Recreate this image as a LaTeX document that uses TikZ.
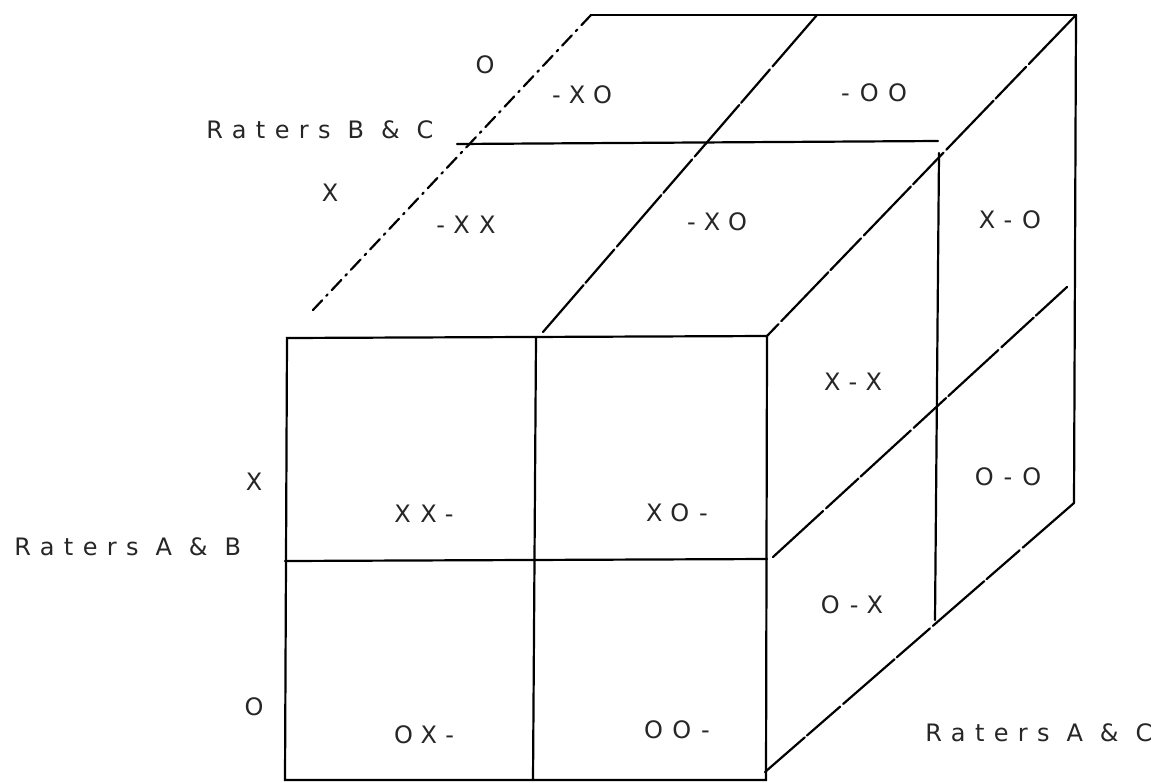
\documentclass[tikz,border=0pt]{standalone}
\usepackage{fontspec}
\newfontfamily\printfont[LetterSpace=39]{DejaVu Sans}

\begin{document}
\begin{tikzpicture}[
      x=0.5pt, y=-0.5pt,
      edge/.style={line width=1.1pt, line cap=round},
      broken/.style={edge, dash pattern=on 34pt off 2pt on 22pt off 1.5pt},
      dashdot/.style={edge, dash pattern=on 7pt off 3pt on 1pt off 3pt},
      cell/.style={font=\printfont\fontsize{12}{14}\selectfont, inner sep=0pt, text=black!85},
      axis/.style={cell, anchor=west}
    ]
    \useasboundingbox (0,0) rectangle (1160,782);

    % corners of the cube
    \coordinate (ftl) at (287,338);
    \coordinate (ftr) at (767,336);
    \coordinate (fbl) at (285,780);
    \coordinate (fbr) at (766,780);
    \coordinate (fml) at (285,561);
    \coordinate (fmr) at (767,559);
    \coordinate (ftm) at (536,337);
    \coordinate (fbm) at (533,780);
    \coordinate (btl) at (591,15);
    \coordinate (btr) at (1076,15);
    \coordinate (btm) at (817,15);
    \coordinate (tbm) at (543,332);
    \coordinate (tle) at (313,310);
    \coordinate (tml) at (457,144);
    \coordinate (tmr) at (938,141);
    \coordinate (bbr) at (1074,503);
    \coordinate (rbe) at (765,772);
    \coordinate (rtv) at (939,153);
    \coordinate (rbv) at (935,620);
    \coordinate (rml) at (773,557);
    \coordinate (rmr) at (1067,287);

    % front face
    \draw[edge] (ftl) -- (ftr) -- (fbr) -- (fbl) -- cycle;
    \draw[edge] (fml) -- (fmr);
    \draw[edge] (ftm) -- (fbm);

    % top face
    \draw[edge] (btl) -- (btr);
    \draw[dashdot] (btl) -- (tle);
    \draw[broken] (btr) -- (ftr);
    \draw[edge] (tml) -- (tmr);
    \draw[broken] (btm) -- (tbm);

    % right face
    \draw[edge] (btr) -- (bbr);
    \draw[broken] (bbr) -- (rbe);
    \draw[edge] (rtv) -- (rbv);
    \draw[broken] (rml) -- (rmr);

    % labels
    \node[axis] (raterBC) at (206,130) {Raters B \& C};
    \node[cell] (topO) at (485,65) {O};
    \node[cell] (topX) at (330,193) {X};
    \node[cell] (cXOa) at (582,95) {-XO};
    \node[cell] (cOOa) at (874,93) {-OO};
    \node[cell] (cXXa) at (466,225) {-XX};
    \node[cell] (cXOb) at (717,222) {-XO};

    \node[axis] (raterAB) at (14,547) {Raters A \& B};
    \node[cell] (frontX) at (254,482) {X};
    \node[cell] (frontO) at (254,707) {O};
    \node[cell] (cXX) at (424,514) {XX-};
    \node[cell] (cXO) at (677,513) {XO-};
    \node[cell] (cOX) at (424,735) {OX-};
    \node[cell] (cOO) at (677,730) {OO-};

    \node[cell] (cXmO) at (1010,220) {X-O};
    \node[cell] (cXmX) at (853,382) {X-X};
    \node[cell] (cOmO) at (1008,477) {O-O};
    \node[cell] (cOmX) at (852,605) {O-X};
    \node[axis] (raterAC) at (925,733) {Raters A \& C};

  \end{tikzpicture}
\end{document}
